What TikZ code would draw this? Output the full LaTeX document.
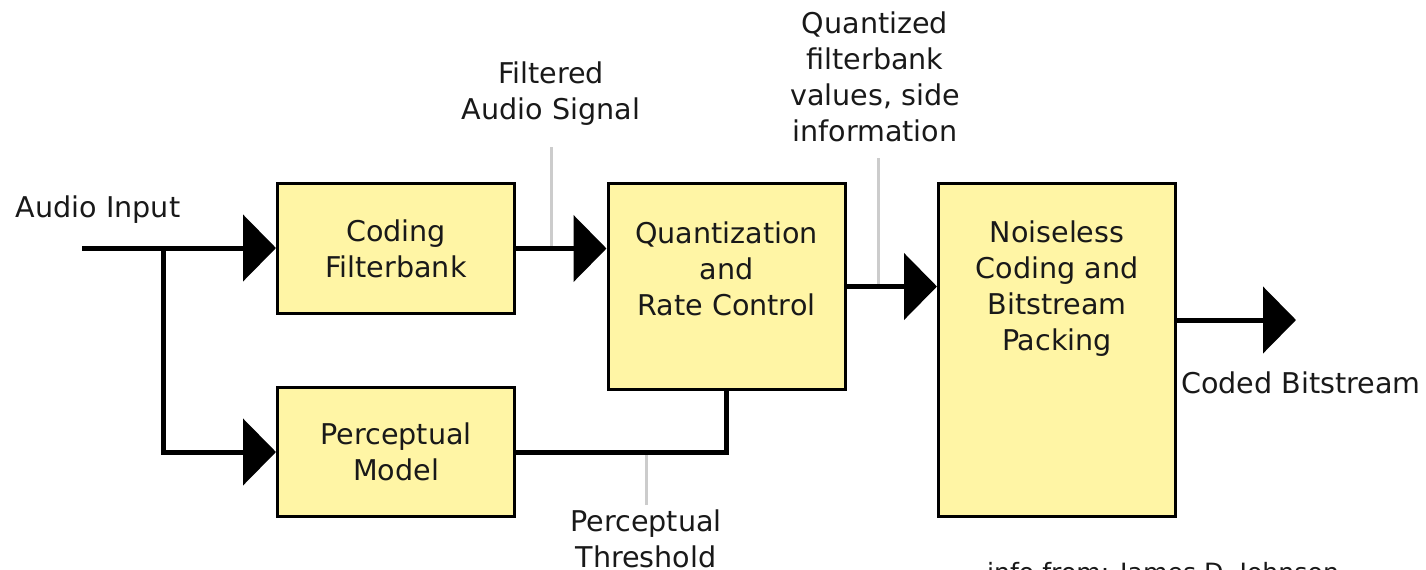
\documentclass[tikz,border=0pt]{standalone}
\usepackage{fontspec}
\setmainfont{DejaVu Sans}
\usetikzlibrary{arrows.meta}
\definecolor{blockfill}{RGB}{255,245,165}

\begin{document}
\begin{tikzpicture}[
   x=0.5pt,y=-0.5pt,
   font=\fontsize{14.3}{18}\selectfont,
   block/.style={draw,line width=1.5pt,fill=blockfill,inner sep=0pt,
      minimum width=118.5pt,align=center,text=black!90},
   lbl/.style={align=center,text=black!90},
   wire/.style={line width=2.5pt},
   flow/.style={wire,-{Triangle[length=16.5pt,width=33pt]}},
   tick/.style={line width=1.5pt,black!20}]
\useasboundingbox (0,0) rectangle (1426,569);

\node[block,minimum height=65pt] (cf) at (396,248.5) {Coding\\Filterbank};
\node[block,minimum height=64.5pt] (pm) at (396,452) {Perceptual\\Model};
\node[block,minimum height=103pt] (qz) at (726.5,286.5) {};
\node[lbl] (qztext) at (726.5,269) {Quantization\\and\\Rate Control};
\node[block,minimum height=166.5pt] (nl) at (1057,350) {};
\node[lbl] (nltext) at (1057,288.5) {Noiseless\\Coding and\\Bitstream\\Packing};

\node[lbl] (ain) at (98,210) {Audio Input};
\node[lbl] (fas) at (551,94) {Filtered\\Audio Signal};
\node[lbl] (qfv) at (875,77) {Quantized\\filterbank\\values, side\\information};
\node[lbl] (pth) at (646,538.5) {Perceptual\\Threshold};
\node[lbl] (cbs) at (1301,383) {Coded Bitstream};
\node[lbl,anchor=base,font=\fontsize{12.6}{15}\selectfont] (info) at (1163,581) {info from: James D. Johnson};

\coordinate (in) at (82,248);
\coordinate (br) at (163,248);
\coordinate (out) at (1296,320);
\coordinate (fatop) at (551,147);
\coordinate (qftop) at (878,158);
\coordinate (ptbot) at (646,505);

\draw[tick] (fatop) -- (fatop |- cf.east);
\draw[tick] (qftop) -- (qftop |- qz.east);
\draw[tick] (ptbot) -- (ptbot |- pm.east);

\draw[flow] (in) -- (in -| cf.west);
\draw[flow] (br) |- (pm.west);
\draw[flow] (cf.east) -- (cf.east -| qz.west);
\draw[flow] (qz.east) -- (qz.east -| nl.west);
\draw[flow] (out -| nl.east) -- (out);
\draw[wire] (pm.east) -| (qz.south);
\end{tikzpicture}
\end{document}
